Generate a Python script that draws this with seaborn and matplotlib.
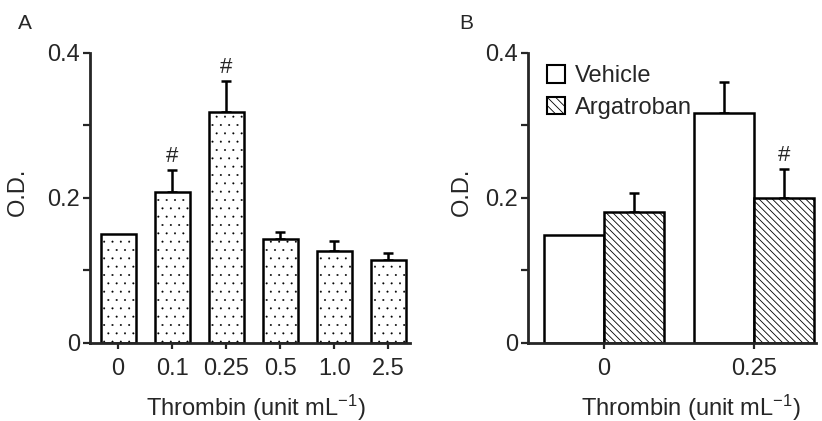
import pandas as pd
import seaborn as sns
import matplotlib.pyplot as plt
from matplotlib.patches import Patch

# panel A: thrombin dose response
doses_a = ['0', '0.1', '0.25', '0.5', '1.0', '2.5']
od_a = [0.150, 0.208, 0.319, 0.143, 0.127, 0.115]
err_a = [0.0, 0.031, 0.042, 0.010, 0.014, 0.009]
sig_a = ['', '#', '#', '', '', '']

# panel B: vehicle vs argatroban
doses_b = ['0', '0.25']
groups_b = ['Vehicle', 'Argatroban']
vehicle_b = [0.149, 0.317]
vehicle_err = [0.0, 0.043]
argatroban_b = [0.181, 0.200]
argatroban_err = [0.026, 0.040]
sig_argatroban = ['', '#']

yticks = [0, 0.1, 0.2, 0.3, 0.4]
yticklabels = ['0', '', '0.2', '', '0.4']
xlabel = r'Thrombin (unit mL$^{-1}$)'
FS = 17

sns.set_style('ticks')
plt.rcParams['font.family'] = ['Liberation Sans', 'DejaVu Sans']
plt.rcParams['mathtext.fontset'] = 'custom'
plt.rcParams['mathtext.rm'] = 'Liberation Sans'
plt.rcParams['mathtext.it'] = 'Liberation Sans:italic'
plt.rcParams['mathtext.default'] = 'regular'
plt.rcParams['hatch.linewidth'] = 0.6
plt.rcParams['hatch.color'] = 'black'

fig = plt.figure(figsize=(8.22, 4.21), dpi=100)
ax_a = fig.add_axes([0.1095, 0.1853, 0.389, 0.689])
ax_b = fig.add_axes([0.6423, 0.1853, 0.3504, 0.689])


def style_axis(ax):
    sns.despine(ax=ax)
    for s in ['left', 'bottom']:
        ax.spines[s].set_linewidth(2)
    ax.tick_params(axis='y', width=1.6, length=5, labelsize=FS, pad=2)
    ax.tick_params(axis='x', width=1.6, length=4, labelsize=FS, pad=7)
    ax.set_ylim(0, 0.4)
    ax.set_yticks(yticks)
    ax.set_yticklabels(yticklabels)
    ax.set_ylabel('O.D.', fontsize=FS)
    ax.set_xlabel(xlabel, fontsize=FS)


def add_errors(ax, bars, errs, marks, fs=16):
    for p, e, m in zip(bars, errs, marks):
        x = p.get_x() + p.get_width() / 2
        h = p.get_height()
        if e > 0:
            ax.errorbar(x, h, yerr=[[0], [e]], fmt='none', ecolor='black',
                        elinewidth=1.8, capsize=3.5, capthick=1.8, zorder=1)
        if m:
            ax.text(x, h + e + 0.004, m, ha='center', va='bottom', fontsize=fs)


# ---- panel A ----
df_a = pd.DataFrame({'dose': doses_a, 'od': od_a})
sns.barplot(data=df_a, x='dose', y='od', order=doses_a, color='white',
            edgecolor='black', linewidth=1.8, width=0.65, errorbar=None,
            saturation=1, ax=ax_a)
bars_a = ax_a.containers[0]
for p in bars_a:
    p.set_hatch('..')
    p.set_zorder(2)
    try:
        p.set_hatch_linewidth(0.2)
    except AttributeError:
        pass
add_errors(ax_a, bars_a, err_a, sig_a)
style_axis(ax_a)
ax_a.set_xlim(-0.52, 5.4)
ax_a.yaxis.set_label_coords(-0.19, 0.52)
ax_a.xaxis.set_label_coords(0.52, -0.17)

# ---- panel B ----
df_b = pd.DataFrame({
    'dose': doses_b * 2,
    'group': [groups_b[0]] * 2 + [groups_b[1]] * 2,
    'od': vehicle_b + argatroban_b,
})
sns.barplot(data=df_b, x='dose', y='od', hue='group', order=doses_b,
            hue_order=groups_b, palette=['white', 'white'], edgecolor='black',
            linewidth=1.8, width=0.8, errorbar=None, saturation=1,
            legend=False, ax=ax_b)
veh_bars, arg_bars = ax_b.containers[0], ax_b.containers[1]
for p in list(veh_bars) + list(arg_bars):
    p.set_zorder(2)
for p in arg_bars:
    p.set_hatch('\\\\\\\\\\')
add_errors(ax_b, veh_bars, vehicle_err, ['', ''])
add_errors(ax_b, arg_bars, argatroban_err, sig_argatroban)
style_axis(ax_b)
ax_b.set_xlim(-0.507, 1.413)
ax_b.yaxis.set_label_coords(-0.19, 0.52)
ax_b.xaxis.set_label_coords(0.566, -0.17)

handles = [Patch(facecolor='white', edgecolor='black', linewidth=1.5),
           Patch(facecolor='white', edgecolor='black', linewidth=1.5, hatch='\\\\\\\\')]
ax_b.legend(handles, groups_b, loc='upper left', bbox_to_anchor=(0.035, 0.99),
            frameon=False, fontsize=FS, handlelength=0.75, handleheight=0.75,
            handletextpad=0.4, labelspacing=0.4, borderaxespad=0)

fig.text(0.022, 0.945, 'A', fontsize=15, va='center')
fig.text(0.559, 0.945, 'B', fontsize=15, va='center')

fig.savefig('out.png', dpi=100)
